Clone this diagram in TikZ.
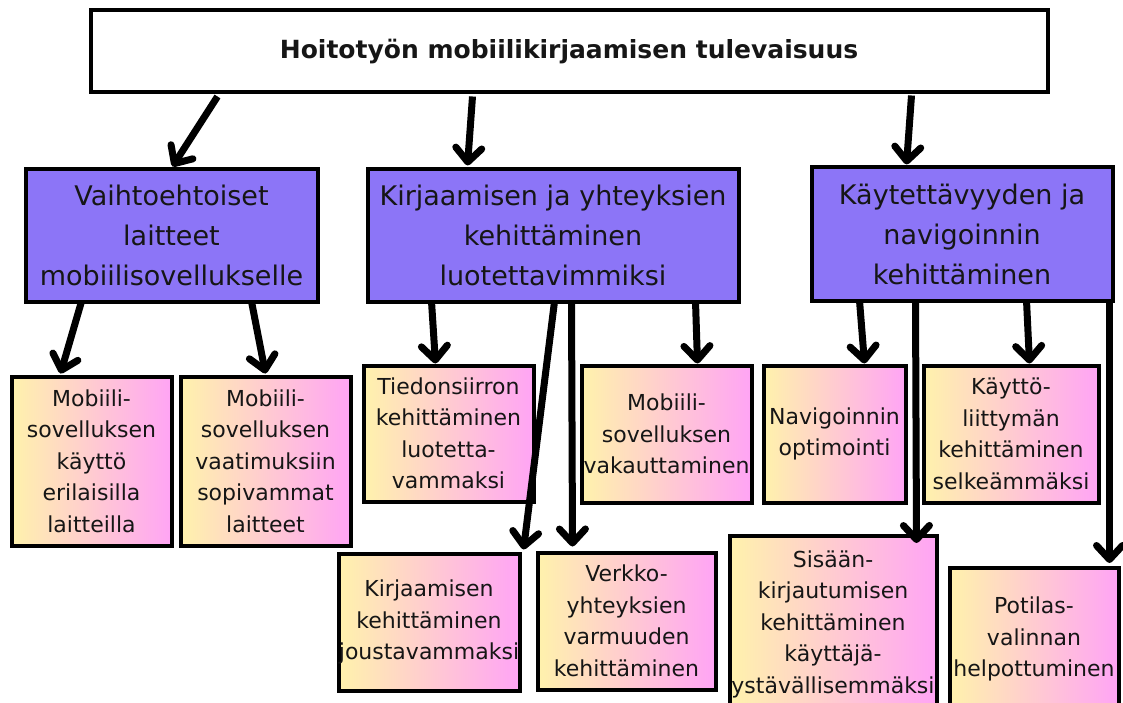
\documentclass[tikz,border=0pt]{standalone}
\usepackage{fontspec}
\setmainfont{DejaVu Sans}
\usetikzlibrary{arrows.meta}
\definecolor{purplebox}{RGB}{140,117,247}
\definecolor{gradleft}{RGB}{255,242,172}
\definecolor{gradright}{RGB}{255,164,245}
\definecolor{ink}{RGB}{22,22,22}
\tikzset{
  base/.style={draw=black, line width=4pt, outer sep=0pt, inner sep=0pt, align=center, text=ink},
  titlebox/.style={base, fill=white, font=\fontsize{25pt}{30pt}\selectfont\bfseries},
  catbox/.style={base, fill=purplebox, font=\fontsize{27pt}{40pt}\selectfont},
  leafbox/.style={base, left color=gradleft, right color=gradright, font=\fontsize{22pt}{31.5pt}\selectfont},
  arr/.style={draw=black, line width=7pt, -{Straight Barb[length=14pt,width=26pt,round]}},
}
\begin{document}
\begin{tikzpicture}[x=1pt,y=-1pt]
\useasboundingbox[fill=white] (0,0) rectangle (1123,703);
% title
\node[titlebox, minimum width=957pt, minimum height=82pt] (top) at (569,51.5) {Hoitotyön mobiilikirjaamisen tulevaisuus};
% categories
\node[catbox, minimum width=292pt, minimum height=132pt] (p1) at (171.5,235.5) {Vaihtoehtoiset\\laitteet\\mobiilisovellukselle};
\node[catbox, minimum width=371pt, minimum height=132pt] (p2) at (553,235.5) {Kirjaamisen ja yhteyksien\\kehittäminen\\luotettavimmiksi};
\node[catbox, minimum width=301pt, minimum height=133pt] (p3) at (962,234) {Käytettävyyden ja\\navigoinnin\\kehittäminen};
% leaves
\node[leafbox, minimum width=160pt, minimum height=169pt] (s1) at (91.5,461) {Mobiili-\\sovelluksen\\käyttö\\erilaisilla\\laitteilla};
\node[leafbox, minimum width=170pt, minimum height=169pt] (s2) at (265.5,461) {Mobiili-\\sovelluksen\\vaatimuksiin\\sopivammat\\laitteet};
\node[leafbox, minimum width=170pt, minimum height=136pt] (s3) at (448.5,433.5) {Tiedonsiirron\\kehittäminen\\luotetta-\\vammaksi};
\node[leafbox, minimum width=181pt, minimum height=137pt] (s4) at (429,622) {Kirjaamisen\\kehittäminen\\joustavammaksi};
\node[leafbox, minimum width=178pt, minimum height=137pt] (s5) at (626.5,621) {Verkko-\\yhteyksien\\varmuuden\\kehittäminen};
\node[leafbox, minimum width=170pt, minimum height=137pt] (s6) at (666.5,434) {Mobiili-\\sovelluksen\\vakauttaminen};
\node[leafbox, minimum width=142pt, minimum height=137pt] (s7) at (834.5,434) {Navigoinnin\\optimointi};
\node[leafbox, minimum width=175pt, minimum height=137pt] (s8) at (1011,434) {Käyttö-\\liittymän\\kehittäminen\\selkeämmäksi};
\node[leafbox, minimum width=207pt, minimum height=176pt] (s9) at (833,624) {Sisään-\\kirjautumisen\\kehittäminen\\käyttäjä-\\ystävällisemmäksi};
\node[leafbox, minimum width=169pt, minimum height=142pt] (s10) at (1034,639) {Potilas-\\valinnan\\helpottuminen};
% arrows from title
\draw[arr] ([xshift=127pt,yshift=-4pt]top.south west) -- ([xshift=147pt,yshift=3pt]p1.north west);
\draw[arr] ([xshift=382pt,yshift=-4pt]top.south west) -- ([xshift=100pt,yshift=4pt]p2.north west);
\draw[arr] ([xshift=821pt,yshift=-3pt]top.south west) -- ([xshift=95pt,yshift=3pt]p3.north west);
% arrows from p1
\draw[arr] ([xshift=56pt]p1.south west) -- ([xshift=49pt,yshift=3pt]s1.north west);
\draw[arr] ([xshift=226pt]p1.south west) -- ([xshift=85pt,yshift=3pt]s2.north west);
% arrows from p2
\draw[arr] ([xshift=64pt]p2.south west) -- ([xshift=72pt,yshift=2pt]s3.north west);
\draw[arr] ([xshift=187pt]p2.south west) -- ([xshift=185pt,yshift=4pt]s4.north west);
\draw[arr] ([xshift=204pt]p2.south west) -- ([xshift=35pt,yshift=6pt]s5.north west);
\draw[arr] ([xshift=328pt]p2.south west) -- ([xshift=116pt,yshift=2pt]s6.north west);
% arrows from p3
\draw[arr] ([xshift=48pt]p3.south west) -- ([xshift=101pt,yshift=2pt]s7.north west);
\draw[arr] ([xshift=104pt]p3.south west) -- ([xshift=187pt,yshift=-7pt]s9.north west);
\draw[arr] ([xshift=215pt]p3.south west) -- ([xshift=106pt,yshift=2pt]s8.north west);
\draw[arr] ([xshift=298pt]p3.south west) -- ([xshift=160pt,yshift=5pt]s10.north west);
\end{tikzpicture}
\end{document}
